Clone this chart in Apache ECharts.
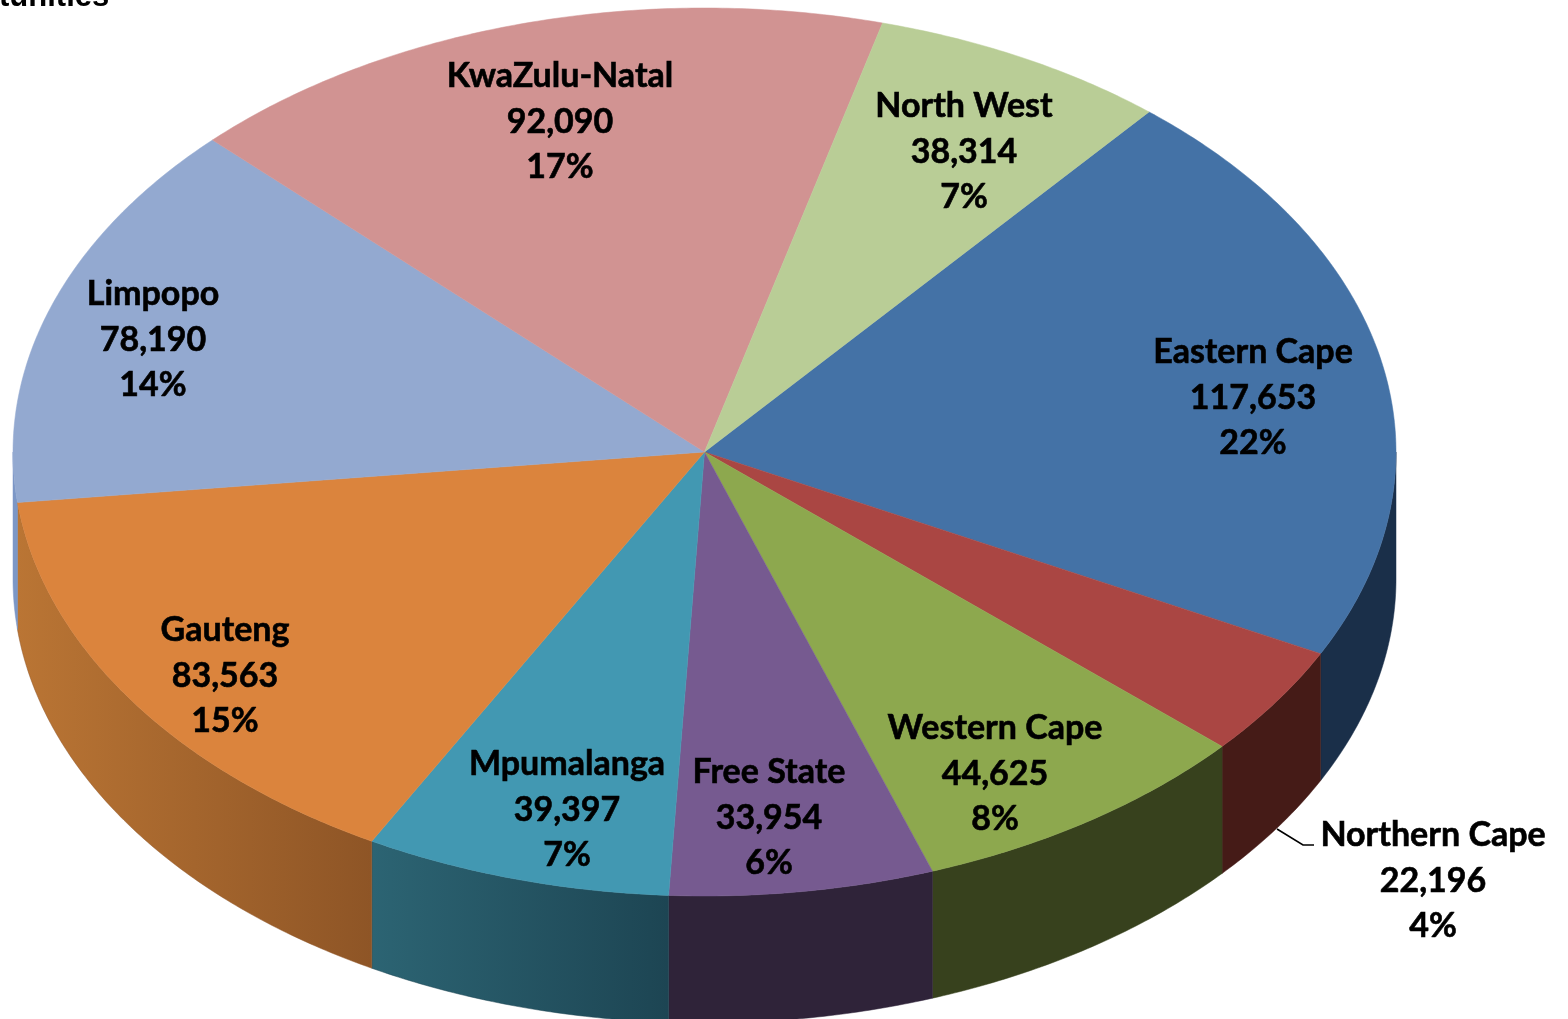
<!DOCTYPE html>
<html>
<head>
    <meta charset="utf-8">
    <title>Opportunities by province</title>
    <script src="https://cdn.jsdelivr.net/npm/echarts@6/dist/echarts.min.js"></script>
    <style>
        html, body { margin: 0; padding: 0; background: #fff; overflow: hidden; }
        #chart { width: 1568px; height: 1019px; }
    </style>
</head>
<body>
    <div id="chart"></div>
<script>
var regions = ['Eastern Cape', 'Northern Cape', 'Western Cape', 'Free State', 'Mpumalanga', 'Gauteng', 'Limpopo', 'KwaZulu-Natal', 'North West'];
var amounts = [117653, 22196, 44625, 33954, 39397, 83563, 78190, 92090, 38314];
// shares as printed in the picture
var shares = ['22%', '4%', '8%', '6%', '7%', '15%', '14%', '17%', '7%'];

var topColors = ['#4472a6', '#aa4643', '#8da84e', '#765a90', '#4298b2', '#db843d', '#93a9d0', '#d19392', '#b9cd96'];
var wallLeft = ['#1a2f49', '#451b17', '#37411d', '#2f2339', '#2c6473', '#ba7534', '#7c97c6', '#d19392', '#b9cd96'];
var wallRight = ['#1a2f49', '#451b17', '#37411d', '#2f2339', '#1d4553', '#8e5526', '#7c97c6', '#d19392', '#b9cd96'];
// centre of each three line label
var labelCentres = [[1253, 398], [1433, 881], [995, 774], [769, 818], [567, 810], [225, 676], [153, 340], [560, 122], [964, 152]];

var cx = 704.5, cy = 452, rx = 691.5, ry = 444, depth = 127;
var startDeg = 40;

var total = amounts.reduce(function (a, b) { return a + b; }, 0);
var cumulative = [0];
for (var i = 0; i < amounts.length; i++) {
    cumulative.push(cumulative[i] + amounts[i]);
}

function rim(deg, drop) {
    var r = deg * Math.PI / 180;
    return [cx + rx * Math.sin(r), cy - ry * Math.cos(r) + (drop || 0)];
}

function arcPoints(from, to, drop) {
    var pts = [];
    var n = Math.max(2, Math.ceil(Math.abs(to - from) * 2));
    for (var k = 0; k <= n; k++) {
        pts.push(rim(from + (to - from) * k / n, drop));
    }
    return pts;
}

function renderSlice(params, api) {
    var idx = params.dataIndex;
    var from = startDeg + cumulative[idx] / total * 360;
    var to = from + api.value(0) / total * 360;
    var children = [];

    // the wall only shows on the front half, 90 to 270 degrees
    var wFrom = Math.max(from, 90), wTo = Math.min(to, 270);
    if (wTo > wFrom) {
        var wall = arcPoints(wFrom, wTo, 0).concat(arcPoints(wTo, wFrom, depth));
        var fill = new echarts.graphic.LinearGradient(0, 0, 1, 0, [
            { offset: 0, color: wallLeft[idx] },
            { offset: 1, color: wallRight[idx] }
        ]);
        children.push({
            type: 'polygon',
            shape: { points: wall },
            style: { fill: fill, stroke: wallRight[idx], lineWidth: 0.5 },
            z2: 1
        });
    }

    children.push({
        type: 'polygon',
        shape: { points: [[cx, cy]].concat(arcPoints(from, to, 0)) },
        style: { fill: topColors[idx], stroke: topColors[idx], lineWidth: 0.5 },
        z2: 2
    });

    if (regions[idx] === 'Northern Cape') {
        children.push({
            type: 'polyline',
            shape: { points: [[1277, 829], [1303, 845], [1314, 845]] },
            style: { fill: null, stroke: '#000', lineWidth: 1.6 },
            z2: 3
        });
    }

    children.push({
        type: 'text',
        style: {
            x: labelCentres[idx][0],
            y: labelCentres[idx][1],
            text: regions[idx] + '\n' + api.value(0).toLocaleString('en-US') + '\n' + shares[idx],
            font: 'bold 34px Lato',
            lineHeight: 45.5,
            fill: '#000',
            stroke: '#000',
            lineWidth: 0.6,
            align: 'center',
            verticalAlign: 'middle'
        },
        z2: 10
    });

    return { type: 'group', children: children };
}

var myChart = echarts.init(document.getElementById('chart'));
myChart.setOption({
    animation: false,
    backgroundColor: '#fff',
    graphic: [{
        type: 'text',
        style: { x: -1, y: -18, text: 'tunities', font: 'bold 31px "Liberation Sans"', fill: '#000' }
    }],
    series: [{
        type: 'custom',
        coordinateSystem: 'none',
        clip: false,
        silent: true,
        data: amounts,
        renderItem: renderSlice
    }]
});
</script>
</body>
</html>
